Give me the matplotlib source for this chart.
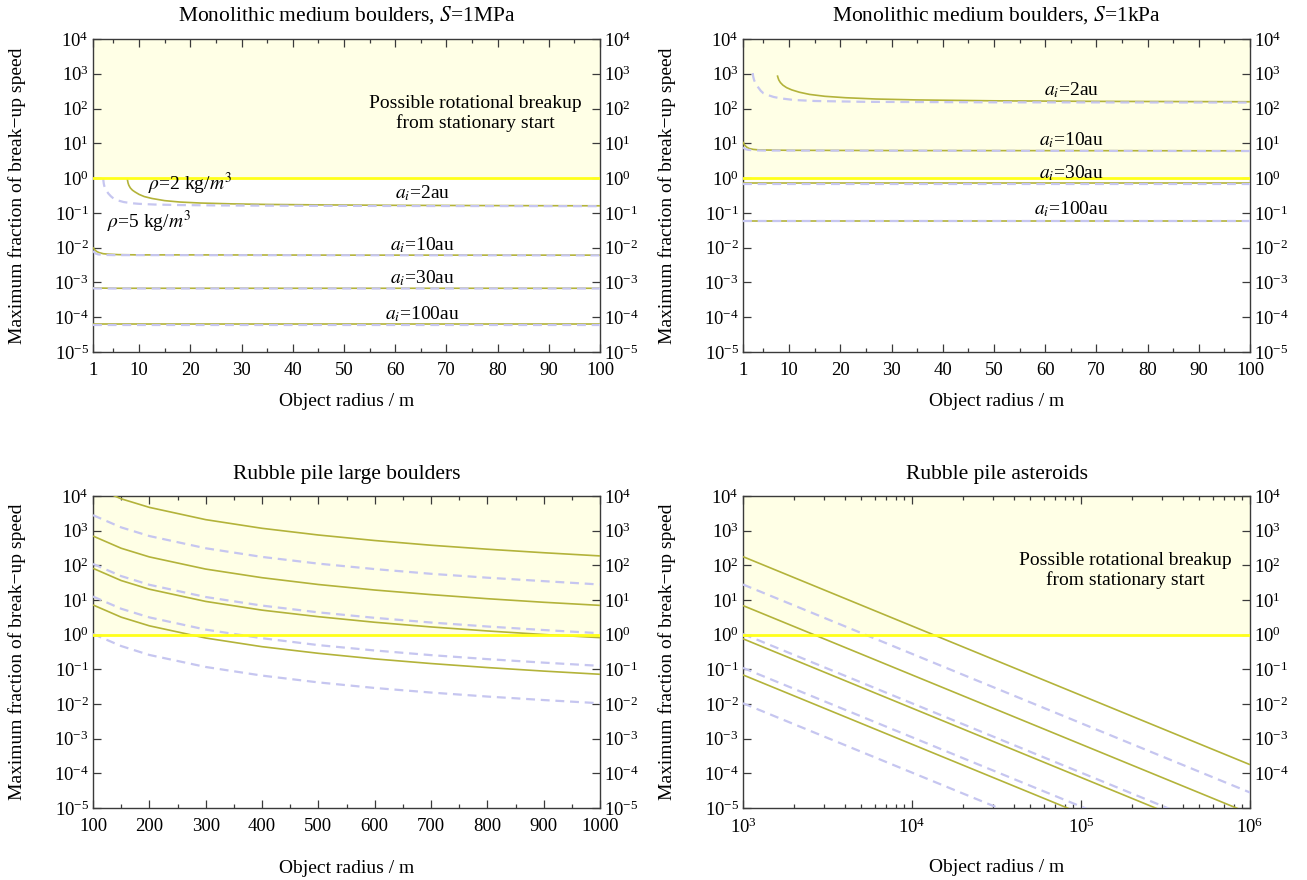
import matplotlib
matplotlib.use('Agg')
import matplotlib.pyplot as plt
from matplotlib.ticker import NullLocator, FixedLocator, LogLocator, NullFormatter

plt.rcParams['font.family'] = ['Liberation Serif', 'DejaVu Serif']
plt.rcParams['mathtext.fontset'] = 'stix'
plt.rcParams['axes.unicode_minus'] = True

# ---------------- data ----------------
ai_labels = ['$a_i$=2au', '$a_i$=10au', '$a_i$=30au', '$a_i$=100au']
breakup_level = 1.0
y_min, y_max = 1e-5, 1e4

# Panel A: monolithic medium boulders, S=1MPa
A_2au_solid_r = [7.7, 7.75, 7.85, 8.0, 8.3, 8.7, 9.2, 10, 11, 12.5, 15, 18, 22, 28, 35, 45, 60, 80, 100]
A_2au_solid_y = [1.0, 0.85, 0.72, 0.62, 0.52, 0.45, 0.40, 0.34, 0.295, 0.26, 0.225, 0.205, 0.192, 0.182, 0.175, 0.17, 0.165, 0.162, 0.16]
A_2au_dash_r = [3.0, 3.03, 3.1, 3.2, 3.4, 3.7, 4.0, 4.5, 5, 6, 7, 8.5, 10, 13, 18, 25, 40, 60, 100]
A_2au_dash_y = [1.0, 0.85, 0.70, 0.60, 0.50, 0.42, 0.36, 0.30, 0.26, 0.225, 0.205, 0.19, 0.182, 0.174, 0.168, 0.164, 0.16, 0.158, 0.156]
A_10au_solid_r = [1, 1.3, 1.7, 2.2, 3, 4, 6, 10, 20, 50, 100]
A_10au_solid_y = [0.0102, 0.0088, 0.0078, 0.0072, 0.0067, 0.0065, 0.0063, 0.0062, 0.0062, 0.0061, 0.0061]
A_10au_dash_r = [1, 1.5, 2, 3, 5, 10, 100]
A_10au_dash_y = [0.0080, 0.0068, 0.0064, 0.0062, 0.0061, 0.0061, 0.0060]
A_30au_r = [1, 2, 5, 100]
A_30au_solid_y = [7.0e-4, 6.9e-4, 6.8e-4, 6.8e-4]
A_30au_dash_y = [6.8e-4, 6.7e-4, 6.7e-4, 6.7e-4]
A_100au_r = [1, 100]
A_100au_solid_y = [6.2e-5, 6.2e-5]
A_100au_dash_y = [6.1e-5, 6.1e-5]

# Panel B: monolithic medium boulders, S=1kPa
B_2au_solid_r = [7.7, 7.85, 8.0, 8.3, 8.8, 9.5, 10.5, 12, 14, 17, 21, 27, 35, 50, 70, 100]
B_2au_solid_y = [900, 760, 660, 560, 470, 400, 345, 295, 255, 225, 205, 188, 177, 167, 161, 157]
B_2au_dash_r = [2.9, 2.95, 3.05, 3.2, 3.5, 4.0, 4.5, 5, 6, 7, 8.5, 11, 15, 25, 50, 100]
B_2au_dash_y = [1050, 900, 760, 640, 520, 400, 320, 275, 240, 215, 195, 176, 165, 156, 151, 149]
B_10au_solid_r = [1, 1.3, 1.7, 2.2, 3, 4, 6, 10, 30, 100]
B_10au_solid_y = [11, 9.0, 7.8, 7.1, 6.7, 6.5, 6.4, 6.3, 6.2, 6.1]
B_10au_dash_r = [1, 1.5, 2, 3, 5, 100]
B_10au_dash_y = [7.6, 6.8, 6.5, 6.3, 6.2, 6.0]
B_30au_r = [1, 100]
B_30au_solid_y = [0.70, 0.70]
B_30au_dash_y = [0.68, 0.68]
B_100au_r = [1, 100]
B_100au_solid_y = [0.060, 0.060]
B_100au_dash_y = [0.059, 0.059]

# Panel C: rubble pile large boulders
C_r = [100, 150, 200, 300, 400, 500, 600, 700, 800, 900, 1000]
C_solid_2au = [18700, 8300, 4700, 2080, 1170, 750, 520, 380, 292, 231, 187]
C_solid_10au = [700, 311, 175, 78, 44, 28, 19.4, 14.3, 10.9, 8.6, 7.0]
C_solid_30au = [82, 36.4, 20.5, 9.1, 5.1, 3.3, 2.28, 1.67, 1.28, 1.01, 0.82]
C_solid_100au = [7.2, 3.2, 1.8, 0.80, 0.45, 0.29, 0.20, 0.147, 0.1125, 0.089, 0.072]
C_dash_2au = [2800, 1244, 700, 311, 175, 112, 78, 57, 44, 35, 28]
C_dash_10au = [110, 49, 27.5, 12.2, 6.9, 4.4, 3.06, 2.24, 1.72, 1.36, 1.1]
C_dash_30au = [12.6, 5.6, 3.15, 1.40, 0.79, 0.50, 0.35, 0.257, 0.197, 0.156, 0.126]
C_dash_100au = [1.05, 0.47, 0.26, 0.117, 0.066, 0.042, 0.029, 0.0214, 0.0164, 0.0130, 0.0105]

# Panel D: rubble pile asteroids
D_r = [1e3, 1e6]
D_solid_2au = [178, 1.78e-4]
D_solid_10au = [6.9, 6.9e-6]
D_solid_30au = [0.76, 7.6e-7]
D_solid_100au = [0.069, 6.9e-8]
D_dash_2au = [28, 2.8e-5]
D_dash_10au = [1.05, 1.05e-6]
D_dash_30au = [0.11, 1.1e-7]
D_dash_100au = [0.0105, 1.05e-8]

titles = ['Monolithic medium boulders, $S$=1MPa', 'Monolithic medium boulders, $S$=1kPa',
          'Rubble pile large boulders', 'Rubble pile asteroids']
xlabel = 'Object radius / m'
ylabel = 'Maximum fraction of break\u2212up speed'
breakup_text = 'Possible rotational breakup\nfrom stationary start'

# ---------------- style ----------------
OLIVE = '#b3b33a'
LAV = '#c6c6f0'
FILL = '#ffffe6'
YEL = '#ffff1a'
FRAME = '#3a3a3a'
W, H = 1307, 880

fig = plt.figure(figsize=(W / 100, H / 100), dpi=100)


def add_axes(l, r, t, b):
    return fig.add_axes([l / W, 1 - b / H, (r - l) / W, (b - t) / H])


axA = add_axes(93, 600, 39, 352)
axB = add_axes(743, 1250, 39, 352)
axC = add_axes(93, 600, 496, 808)
axD = add_axes(743, 1250, 496, 808)


def style(ax, title, xlim, title_pad, xlabel_pad):
    ax.set_yscale('log')
    ax.set_xlim(*xlim)
    ax.set_ylim(y_min, y_max)
    ax.yaxis.set_major_locator(FixedLocator([10.0 ** k for k in range(-5, 5)]))
    ax.yaxis.set_minor_locator(NullLocator())
    ax.tick_params(which='both', direction='in', top=True, right=True, labelright=True,
                   labelsize=13.5, color=FRAME, width=0.9, pad=3)
    ax.tick_params(axis='x', which='both', pad=7)
    ax.tick_params(which='major', length=6)
    ax.tick_params(which='minor', length=3)
    for s in ax.spines.values():
        s.set_color(FRAME)
        s.set_linewidth(1.0)
    ax.axhspan(breakup_level, y_max, color=FILL, zorder=0, lw=0)
    ax.axhline(breakup_level, color=YEL, lw=2.0, zorder=5)
    ax.set_title(title, fontsize=15.5, pad=title_pad)
    ax.set_xlabel(xlabel, fontsize=14, labelpad=xlabel_pad)
    ax.set_ylabel(ylabel, fontsize=14)
    ax.yaxis.set_label_coords(-0.132, 0.5)


def solid(ax, x, y):
    ax.plot(x, y, color=OLIVE, lw=1.2, zorder=3, solid_capstyle='butt')


def dashed(ax, x, y):
    ax.plot(x, y, color=LAV, lw=1.6, ls=(0, (4, 2.6)), zorder=4)


# Panel A
style(axA, titles[0], (1, 100), 13, 10)
for x, y in [(A_2au_solid_r, A_2au_solid_y), (A_10au_solid_r, A_10au_solid_y),
             (A_30au_r, A_30au_solid_y), (A_100au_r, A_100au_solid_y)]:
    solid(axA, x, y)
for x, y in [(A_2au_dash_r, A_2au_dash_y), (A_10au_dash_r, A_10au_dash_y),
             (A_30au_r, A_30au_dash_y), (A_100au_r, A_100au_dash_y)]:
    dashed(axA, x, y)

# Panel B
style(axB, titles[1], (1, 100), 13, 10)
for x, y in [(B_2au_solid_r, B_2au_solid_y), (B_10au_solid_r, B_10au_solid_y),
             (B_30au_r, B_30au_solid_y), (B_100au_r, B_100au_solid_y)]:
    solid(axB, x, y)
for x, y in [(B_2au_dash_r, B_2au_dash_y), (B_10au_dash_r, B_10au_dash_y),
             (B_30au_r, B_30au_dash_y), (B_100au_r, B_100au_dash_y)]:
    dashed(axB, x, y)

for ax in (axA, axB):
    ax.xaxis.set_major_locator(FixedLocator([1] + list(range(10, 101, 10))))
    ax.xaxis.set_minor_locator(FixedLocator(list(range(5, 100, 10))))

# Panel C
style(axC, titles[2], (100, 1000), 12, 18)
for y in (C_solid_2au, C_solid_10au, C_solid_30au, C_solid_100au):
    solid(axC, C_r, y)
for y in (C_dash_2au, C_dash_10au, C_dash_30au, C_dash_100au):
    dashed(axC, C_r, y)
axC.xaxis.set_major_locator(FixedLocator(list(range(100, 1001, 100))))
axC.xaxis.set_minor_locator(FixedLocator(list(range(150, 1000, 100))))

# Panel D
style(axD, titles[3], (1e3, 1e6), 12, 16)
axD.set_xscale('log')
axD.set_xlim(1e3, 1e6)
for y in (D_solid_2au, D_solid_10au, D_solid_30au, D_solid_100au):
    solid(axD, D_r, y)
for y in (D_dash_2au, D_dash_10au, D_dash_30au, D_dash_100au):
    dashed(axD, D_r, y)
axD.xaxis.set_major_locator(LogLocator(base=10, numticks=10))
axD.xaxis.set_minor_locator(LogLocator(base=10, subs=range(2, 10), numticks=20))
axD.xaxis.set_minor_formatter(NullFormatter())
fig.canvas.draw()
axD.yaxis.get_major_ticks()[0].label2.set_visible(False)

# annotations
lab_kw = dict(fontsize=14, ha='center', va='center', zorder=6)
A_label_y = [0.36, 0.0117, 1.35e-3, 1.26e-4]
B_label_y = [340, 12, 1.35, 0.126]
for lab, ya, yb in zip(ai_labels, A_label_y, B_label_y):
    axA.text(0.65, ya, lab, transform=axA.get_yaxis_transform(), **lab_kw)
    axB.text(0.648, yb, lab, transform=axB.get_yaxis_transform(), **lab_kw)

axA.text(0.109, 0.66, r'$\rho$=2 kg/$m^3$', transform=axA.get_yaxis_transform(),
         fontsize=14, ha='left', va='center', zorder=6)
axA.text(0.028, 0.055, r'$\rho$=5 kg/$m^3$', transform=axA.get_yaxis_transform(),
         fontsize=14, ha='left', va='center', zorder=6)

for ax in (axA, axD):
    ax.text(0.755, 70, breakup_text, transform=ax.get_yaxis_transform(),
            fontsize=14, ha='center', va='center', linespacing=1.15, zorder=6)

fig.savefig('out.png', dpi=100)
